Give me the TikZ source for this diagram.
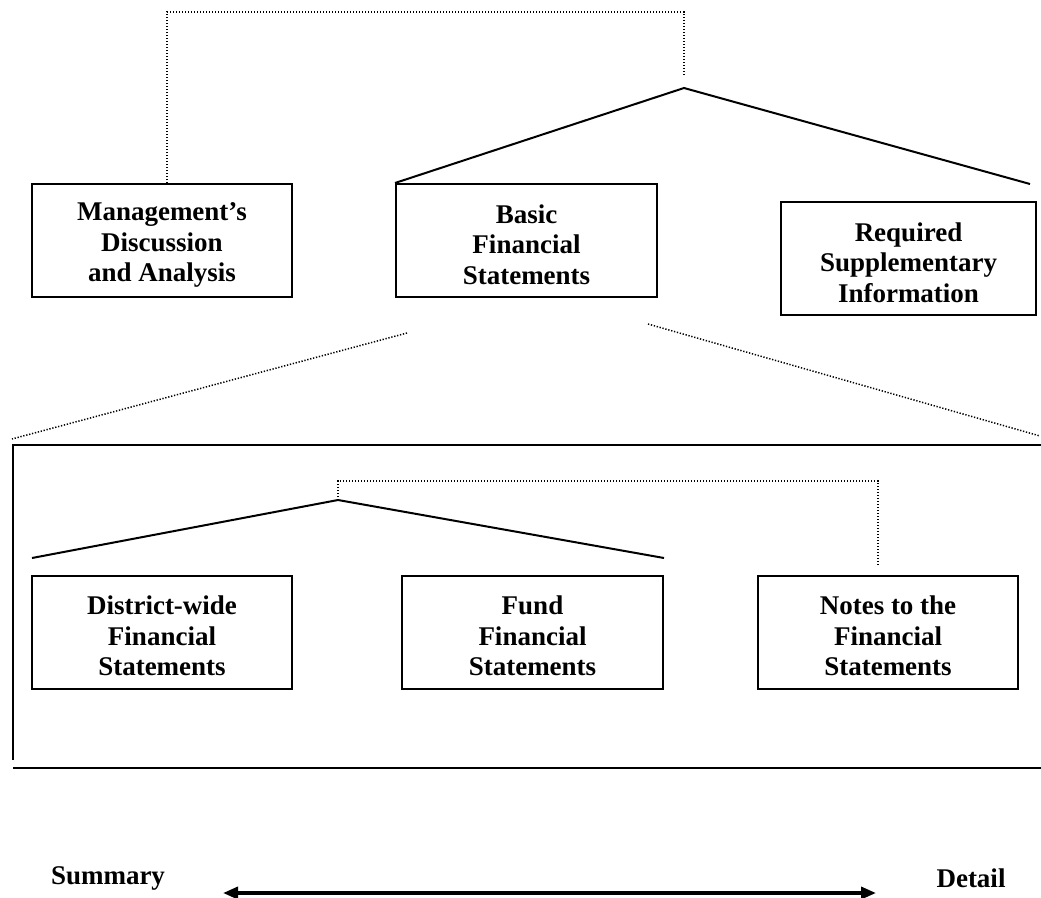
\documentclass[tikz,border=0pt]{standalone}
\usepackage{fontspec}
\setmainfont{Liberation Serif}
\usetikzlibrary{arrows.meta}
\newcommand{\topstrut}{\rule{0pt}{27pt}}
\tikzset{
  box/.style={draw, line width=2pt, inner sep=0pt, align=center,
    font=\fontsize{27}{30.5}\selectfont\bfseries},
  solidline/.style={line width=2pt},
  dotline/.style={line width=1.5pt, dash pattern=on 1.3pt off 1.7pt},
  frameline/.style={line width=2.5pt},
  lbl/.style={font=\fontsize{27}{30}\selectfont\bfseries, inner sep=0pt}
}
\begin{document}
\begin{tikzpicture}[x=1pt,y=-1pt]
\useasboundingbox (0,0) rectangle (1041,897);
% top level boxes
\node[box, minimum width=260pt, minimum height=113pt] (mda) at (162,240.5) {\topstrut Management’s\\Discussion\\and Analysis};
\node[box, minimum width=261pt, minimum height=113pt] (bfs) at (526.5,240.5) {\topstrut Basic\\Financial\\Statements};
\node[box, minimum width=255pt, minimum height=113pt] (rsi) at (908.5,258.5) {\topstrut Required\\Supplementary\\Information};
% top connectors
\coordinate (apexA) at (684,88);
\coordinate (rightA) at (1030,184);
\coordinate (dotTopL) at (167,12);
\coordinate (dotTopR) at (684,12);
\coordinate (dotEndA) at (684,76);
\draw[solidline] (bfs.north west) -- (apexA) -- (rightA);
\draw[dotline] (mda.north -| dotTopL) -- (dotTopL) -- (dotTopR) -- (dotEndA);
% fan lines
\coordinate (fanLs) at (407,333);
\coordinate (fanLe) at (12,439);
\coordinate (fanRs) at (648,324);
\coordinate (fanRe) at (1040,436);
\draw[dotline] (fanLs) -- (fanLe);
\draw[dotline] (fanRs) -- (fanRe);
% frame
\coordinate (frTL) at (13,445);
\coordinate (frTR) at (1041,445);
\coordinate (frBL) at (13,760);
\coordinate (frB1) at (13,768);
\coordinate (frB2) at (1041,768);
\draw[frameline] (frTR) -- (frTL) -- (frBL);
\draw[frameline] (frB1) -- (frB2);
% inner boxes
\node[box, minimum width=260pt, minimum height=113pt] (dw) at (162,632) {\topstrut District-wide\\Financial\\Statements};
\node[box, minimum width=261pt, minimum height=113pt] (fund) at (532.5,632) {\topstrut Fund\\Financial\\Statements};
\node[box, minimum width=260pt, minimum height=113pt] (notes) at (888,632) {\topstrut Notes to the\\Financial\\Statements};
% inner connectors
\coordinate (apexB) at (338,500);
\coordinate (leftB) at (32,558);
\coordinate (rightB) at (664,558);
\coordinate (dotB1) at (338,481);
\coordinate (dotB2) at (878,481);
\coordinate (dotB3) at (878,565);
\draw[solidline] (leftB) -- (apexB) -- (rightB);
\draw[dotline] (apexB) -- (dotB1) -- (dotB2) -- (dotB3);
% bottom arrow
\node[lbl] (sum) at (108,878) {Summary};
\node[lbl] (det) at (971,878) {Detail};
\coordinate (arL) at (223,893);
\coordinate (arR) at (876,893);
\draw[line width=3.5pt, {Triangle[length=15pt,width=12pt]}-{Triangle[length=15pt,width=12pt]}] (arL) -- (arR);
\end{tikzpicture}
\end{document}
